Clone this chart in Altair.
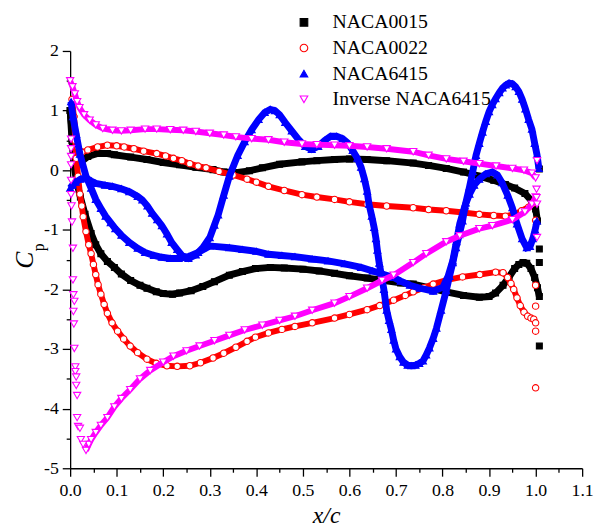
import altair as alt
import pandas as pd

names = ["NACA0015", "NACA0022", "NACA6415", "Inverse NACA6415"]
shapes = ["square", "circle", "triangle-up", "triangle-down"]
fills = ["black", "white", "blue", "white"]
strokes = ["black", "red", "blue", "magenta"]

x_ticks = [round(0.05 * i, 2) for i in range(23)]
y_ticks = [round(-5 + 0.5 * i, 1) for i in range(15)]

# NACA0015
n15_p_x = [0.0, 0.003, 0.006, 0.01, 0.02, 0.038, 0.059, 0.08, 0.095, 0.13, 0.165, 0.2, 0.235, 0.27, 0.307,
           0.33, 0.356, 0.385, 0.413, 0.45, 0.498, 0.53, 0.568, 0.6, 0.638, 0.68, 0.737, 0.77, 0.808, 0.845,
           0.879, 0.91, 0.935, 0.955, 0.977, 0.992, 1.0, 1.004]
n15_p_cp = [1.0, 0.75, 0.45, 0.15, 0.12, 0.23, 0.28, 0.28, 0.26, 0.22, 0.18, 0.13, 0.09, 0.05, 0.01,
            -0.03, -0.04, -0.01, 0.04, 0.1, 0.14, 0.16, 0.18, 0.19, 0.18, 0.16, 0.12, 0.08, 0.03, -0.03,
            -0.1, -0.17, -0.24, -0.3, -0.39, -0.52, -0.65, -0.85]
n15_s_x = [0.0, 0.004, 0.008, 0.014, 0.022, 0.032, 0.045, 0.055, 0.066, 0.08, 0.095, 0.11, 0.13, 0.15, 0.165,
           0.185, 0.2, 0.22, 0.235, 0.26, 0.285, 0.31, 0.342, 0.37, 0.398, 0.43, 0.46, 0.5, 0.535, 0.568,
           0.6, 0.638, 0.675, 0.71, 0.737, 0.77, 0.808, 0.845, 0.879, 0.9, 0.914, 0.93, 0.943, 0.955, 0.964,
           0.973, 0.981, 0.99, 0.998, 1.004, 1.008]
n15_s_cp = [1.0, 0.5, 0.1, -0.2, -0.45, -0.74, -1.06, -1.25, -1.4, -1.53, -1.63, -1.74, -1.85, -1.93, -1.98,
            -2.04, -2.07, -2.08, -2.06, -2.02, -1.95, -1.87, -1.76, -1.7, -1.65, -1.63, -1.64, -1.66, -1.69, -1.73,
            -1.77, -1.81, -1.85, -1.89, -1.91, -1.97, -2.04, -2.1, -2.13, -2.12, -2.06, -1.93, -1.79, -1.65, -1.58,
            -1.55, -1.56, -1.65, -1.8, -1.97, -2.12]
n15_te_x = [1.008, 1.008, 1.008, 1.008]
n15_te_cp = [0.02, -1.32, -1.55, -2.95]

# NACA0022
n22_p_x = [0.004, 0.008, 0.012, 0.017, 0.025, 0.038, 0.059, 0.08, 0.1, 0.116, 0.137, 0.158, 0.186, 0.205, 0.222,
           0.24, 0.257, 0.275, 0.292, 0.32, 0.35, 0.38, 0.4, 0.426, 0.46, 0.498, 0.53, 0.568, 0.6, 0.638,
           0.68, 0.737, 0.77, 0.808, 0.845, 0.879, 0.91, 0.935, 0.955, 0.97, 0.985, 0.995]
n22_p_cp = [1.19, 0.9, 0.6, 0.38, 0.3, 0.34, 0.39, 0.42, 0.41, 0.39, 0.36, 0.32, 0.28, 0.24, 0.2,
            0.16, 0.11, 0.07, 0.04, -0.02, -0.08, -0.15, -0.2, -0.27, -0.34, -0.41, -0.45, -0.49, -0.53, -0.57,
            -0.6, -0.63, -0.66, -0.68, -0.71, -0.74, -0.76, -0.77, -0.74, -0.68, -0.62, -0.55]
n22_s_x = [0.008, 0.011, 0.013, 0.017, 0.021, 0.025, 0.028, 0.034, 0.04, 0.045, 0.05, 0.055, 0.06, 0.066, 0.073,
           0.08, 0.09, 0.102, 0.115, 0.129, 0.145, 0.165, 0.185, 0.208, 0.23, 0.257, 0.28, 0.307, 0.33, 0.356,
           0.38, 0.398, 0.426, 0.455, 0.483, 0.52, 0.568, 0.6, 0.638, 0.665, 0.695, 0.72, 0.737, 0.76, 0.78,
           0.81, 0.843, 0.88, 0.914, 0.93, 0.94, 0.947, 0.953, 0.96, 0.967, 0.975, 0.983, 0.99, 0.996]
n22_s_cp = [0.9, 0.5, 0.2, -0.1, -0.4, -0.6, -0.78, -1.03, -1.25, -1.4, -1.58, -1.75, -1.92, -2.08, -2.25,
            -2.4, -2.56, -2.7, -2.83, -2.95, -3.06, -3.17, -3.24, -3.28, -3.29, -3.28, -3.23, -3.15, -3.07, -2.97,
            -2.87, -2.8, -2.73, -2.67, -2.62, -2.56, -2.48, -2.42, -2.34, -2.27, -2.18, -2.1, -2.04, -1.97, -1.91,
            -1.84, -1.79, -1.75, -1.71, -1.72, -1.8, -1.9, -2.0, -2.14, -2.27, -2.38, -2.45, -2.48, -2.5]
n22_te_x = [1.0, 1.0, 1.0, 1.0, 1.0, 1.0]
n22_te_cp = [-0.84, -1.93, -2.28, -2.56, -2.7, -3.65]

# NACA6415
n64_a_x = [0.002, 0.006, 0.013, 0.021, 0.034, 0.045, 0.055, 0.066, 0.076, 0.087, 0.097, 0.11, 0.127, 0.145, 0.161,
           0.18, 0.197, 0.215, 0.233, 0.254, 0.275, 0.3, 0.342, 0.37, 0.4, 0.426, 0.455, 0.483, 0.52, 0.554,
           0.59, 0.625, 0.65, 0.674, 0.695, 0.71, 0.73, 0.752, 0.78, 0.801, 0.812, 0.822, 0.83, 0.837, 0.848,
           0.858, 0.868, 0.879, 0.893, 0.907, 0.918, 0.928, 0.94, 0.95, 0.96, 0.971, 0.981, 0.988, 0.994, 0.999,
           1.003]
n64_a_cp = [1.15, 0.9, 0.6, 0.27, -0.1, -0.3, -0.49, -0.64, -0.77, -0.88, -0.98, -1.09, -1.21, -1.31, -1.38,
            -1.43, -1.46, -1.48, -1.48, -1.45, -1.38, -1.27, -1.3, -1.33, -1.36, -1.41, -1.43, -1.45, -1.49, -1.52,
            -1.57, -1.63, -1.69, -1.75, -1.8, -1.86, -1.93, -1.98, -2.03, -1.96, -1.78, -1.52, -1.2, -0.9, -0.6,
            -0.4, -0.25, -0.15, -0.06, -0.03, -0.08, -0.21, -0.42, -0.63, -0.9, -1.15, -1.3, -1.28, -1.15, -1.0,
            -0.85]
n64_b_x = [0.0, 0.005, 0.012, 0.022, 0.034, 0.045, 0.055, 0.075, 0.091, 0.11,
           0.127, 0.145, 0.155, 0.166, 0.176, 0.187, 0.197, 0.208, 0.218, 0.23,
           0.24, 0.254, 0.27, 0.285, 0.3, 0.31, 0.318, 0.33, 0.342, 0.36,
           0.375, 0.39, 0.405, 0.418, 0.43, 0.44, 0.45, 0.462, 0.476, 0.49,
           0.505, 0.519, 0.533, 0.547, 0.56, 0.572, 0.585, 0.596, 0.607, 0.617,
           0.625, 0.632, 0.638, 0.642, 0.648, 0.653, 0.657, 0.66, 0.664, 0.669,
           0.674, 0.68, 0.685, 0.69, 0.695, 0.7, 0.708, 0.716, 0.725, 0.733,
           0.742, 0.75, 0.758, 0.765, 0.772, 0.78, 0.787, 0.797, 0.808, 0.815,
           0.822, 0.829, 0.836, 0.843, 0.85, 0.858, 0.865, 0.872, 0.879, 0.886,
           0.893, 0.9, 0.907, 0.914, 0.922, 0.929, 0.936, 0.943, 0.95, 0.957,
           0.964, 0.971, 0.978, 0.985, 0.992, 0.998, 1.003, 1.007]
n64_b_cp = [-0.3, -0.25, -0.2, -0.15, -0.13, -0.18, -0.22, -0.25, -0.27, -0.31,
            -0.36, -0.44, -0.5, -0.6, -0.72, -0.83, -0.93, -1.07, -1.21, -1.33,
            -1.43, -1.48, -1.42, -1.3, -1.13, -0.92, -0.75, -0.42, -0.1, 0.25,
            0.48, 0.68, 0.85, 0.97, 1.02, 1.0, 0.93, 0.8, 0.66, 0.52,
            0.4, 0.35, 0.4, 0.5, 0.57, 0.57, 0.53, 0.46, 0.33, 0.2,
            0.05, -0.14, -0.35, -0.57, -0.77, -0.96, -1.15, -1.34, -1.56, -1.78,
            -2.0, -2.35, -2.52, -2.67, -2.85, -3.0, -3.13, -3.22, -3.27, -3.28,
            -3.27, -3.24, -3.2, -3.1, -2.98, -2.82, -2.65, -2.35, -2.02, -1.78,
            -1.55, -1.3, -1.08, -0.85, -0.55, -0.28, -0.02, 0.25, 0.45, 0.64,
            0.82, 0.98, 1.1, 1.2, 1.3, 1.38, 1.43, 1.46, 1.45, 1.4,
            1.32, 1.19, 1.03, 0.85, 0.69, 0.45, 0.26, 0.03]

# Inverse NACA6415
inv_u_x = [0.0, 0.005, 0.01, 0.015, 0.02, 0.03, 0.042, 0.055, 0.07, 0.091, 0.11, 0.13, 0.161, 0.186, 0.215,
           0.243, 0.27, 0.3, 0.33, 0.356, 0.39, 0.426, 0.46, 0.498, 0.53, 0.568, 0.6, 0.638, 0.68, 0.737,
           0.77, 0.808, 0.845, 0.879, 0.915, 0.95, 0.975, 0.992, 1.0]
inv_u_cp = [1.5, 1.4, 1.28, 1.15, 1.05, 0.93, 0.84, 0.76, 0.7, 0.67, 0.66, 0.67, 0.69, 0.69, 0.68,
            0.67, 0.65, 0.62, 0.59, 0.56, 0.53, 0.51, 0.47, 0.44, 0.43, 0.42, 0.41, 0.39, 0.36, 0.31,
            0.25, 0.19, 0.15, 0.11, 0.07, 0.03, 0.0, -0.05, -0.13]
inv_l_x = [0.034, 0.04, 0.045, 0.055, 0.066, 0.08, 0.095, 0.11, 0.129, 0.15, 0.172, 0.2, 0.222, 0.25, 0.278,
           0.31, 0.342, 0.375, 0.413, 0.45, 0.483, 0.52, 0.568, 0.6, 0.638, 0.67, 0.695, 0.737, 0.765, 0.808,
           0.837, 0.879, 0.907, 0.95, 0.977, 0.992, 1.0]
inv_l_cp = [-4.7, -4.6, -4.52, -4.4, -4.28, -4.15, -3.97, -3.83, -3.68, -3.5, -3.36, -3.22, -3.12, -3.03, -2.95,
            -2.86, -2.77, -2.68, -2.6, -2.52, -2.45, -2.35, -2.23, -2.12, -1.98, -1.85, -1.76, -1.55, -1.4, -1.2,
            -1.1, -0.98, -0.93, -0.83, -0.7, -0.57, -0.45]
inv_le_x = [0.002, 0.002, 0.002, 0.002, 0.002, 0.002, 0.003, 0.004, 0.006, 0.006, 0.007, 0.009, 0.007, 0.008,
            0.009, 0.011, 0.011, 0.013, 0.013, 0.015, 0.015, 0.017, 0.021, 0.023, 0.028]
inv_le_cp = [0.52, 0.36, 0.23, 0.09, -0.17, -0.41, -0.6, -0.87, -1.31, -1.84, -2.09, -2.2, -2.37, -2.58,
             -2.99, -3.3, -3.38, -3.47, -3.61, -3.78, -4.15, -4.3, -4.33, -4.52, -4.6]
inv_te_x = [1.003, 1.002, 1.002, 1.003, 1.003]
inv_te_cp = [0.16, -0.32, -0.46, -0.57, -1.13]

rows = []


def add(series, part, xs, cps):
    for a, b in zip(xs, cps, strict=True):
        rows.append({"series": series, "part": part, "x": a, "cp": b})


add(names[0], "p", n15_p_x, n15_p_cp)
add(names[0], "s", n15_s_x, n15_s_cp)
add(names[0], "scatter", n15_te_x, n15_te_cp)
add(names[1], "p", n22_p_x, n22_p_cp)
add(names[1], "s", n22_s_x, n22_s_cp)
add(names[1], "scatter", n22_te_x, n22_te_cp)
add(names[2], "a", n64_a_x, n64_a_cp)
add(names[2], "b", n64_b_x, n64_b_cp)
add(names[3], "u", inv_u_x, inv_u_cp)
add(names[3], "l", inv_l_x, inv_l_cp)
add(names[3], "scatter", inv_le_x, inv_le_cp)
add(names[3], "scatter", inv_te_x, inv_te_cp)
df = pd.DataFrame(rows)

FONT = "Times New Roman, Liberation Serif, serif"

xaxis = alt.Axis(values=x_ticks, tickCount=60,
                 labelExpr="round(datum.value*20) % 2 == 0 ? format(datum.value, '.1f') : ''",
                 tickSize={"condition": {"test": "round(datum.value*20) % 2 == 0", "value": 8}, "value": 4},
                 title="x/c", titleFont=FONT, titleFontSize=24, titleFontStyle="italic", titleFontWeight="normal",
                 titlePadding=4, labelPadding=6, labelOverlap=False, labelFlush=False, grid=False)
yaxis = alt.Axis(values=y_ticks, tickCount=60,
                 labelExpr="abs(datum.value % 1) < 0.01 ? '' + round(datum.value) : ''",
                 tickSize={"condition": {"test": "abs(datum.value % 1) < 0.01", "value": 8}, "value": 4},
                 title=None, labelPadding=4, labelOverlap=False, labelFlush=False, grid=False)

xe = alt.X("x:Q", scale=alt.Scale(domain=[0, 1.1], nice=False, zero=False), axis=xaxis)
ye = alt.Y("cp:Q", scale=alt.Scale(domain=[-5, 2.0005], nice=False, zero=False), axis=yaxis)

leg = alt.Legend(orient="none", legendX=227, legendY=-39, labelFont=FONT, labelFontSize=20, labelColor="black",
                 labelLimit=400, symbolSize=60, symbolStrokeWidth=1.1, rowPadding=6, labelOffset=19, padding=0,
                 title=None)
shape_e = alt.Shape("series:N", scale=alt.Scale(domain=names, range=shapes), legend=leg)
fill_e = alt.Fill("series:N", scale=alt.Scale(domain=names, range=fills), legend=leg)
stroke_e = alt.Stroke("series:N", scale=alt.Scale(domain=names, range=strokes), legend=leg)

base = alt.Chart(df)
line_w = [7, 6, 7, 6]
pt_size = [36, 42, 50, 55]
layers = []
for i, nm in enumerate(names):
    ln = base.transform_filter(f"datum.series == '{nm}' && datum.part != 'scatter'").mark_line(
        stroke=strokes[i], strokeWidth=line_w[i]).encode(x=xe, y=ye, detail="part:N", order="x:Q")
    pt = base.transform_filter(f"datum.series == '{nm}'").mark_point(
        filled=True, size=pt_size[i], strokeWidth=1.1, opacity=1).encode(
        x=xe, y=ye, shape=shape_e, fill=fill_e, stroke=stroke_e)
    layers += [ln, pt]

c_txt = alt.Chart(pd.DataFrame({"t": ["C"]})).mark_text(
    font=FONT, fontSize=26, fontStyle="italic", angle=270, align="center", baseline="middle", color="black"
).encode(x=alt.value(-46), y=alt.value(212), text="t:N")
p_txt = alt.Chart(pd.DataFrame({"t": ["p"]})).mark_text(
    font=FONT, fontSize=16, angle=270, align="center", baseline="middle", color="black"
).encode(x=alt.value(-32), y=alt.value(199), text="t:N")

chart = alt.layer(*layers, c_txt, p_txt).properties(
    width=519, height=423,
    autosize=alt.AutoSizeParams(type="none"),
    padding={"left": 63, "top": 40, "right": 12, "bottom": 58},
    background="white",
).configure_view(stroke=None).configure_axis(
    domainColor="black", domainWidth=1.3, tickColor="black", tickWidth=1.3,
    labelFont=FONT, labelFontSize=18, labelColor="black", titleColor="black"
)

chart.save("out.html", embed_options={"renderer": "svg", "actions": False})
